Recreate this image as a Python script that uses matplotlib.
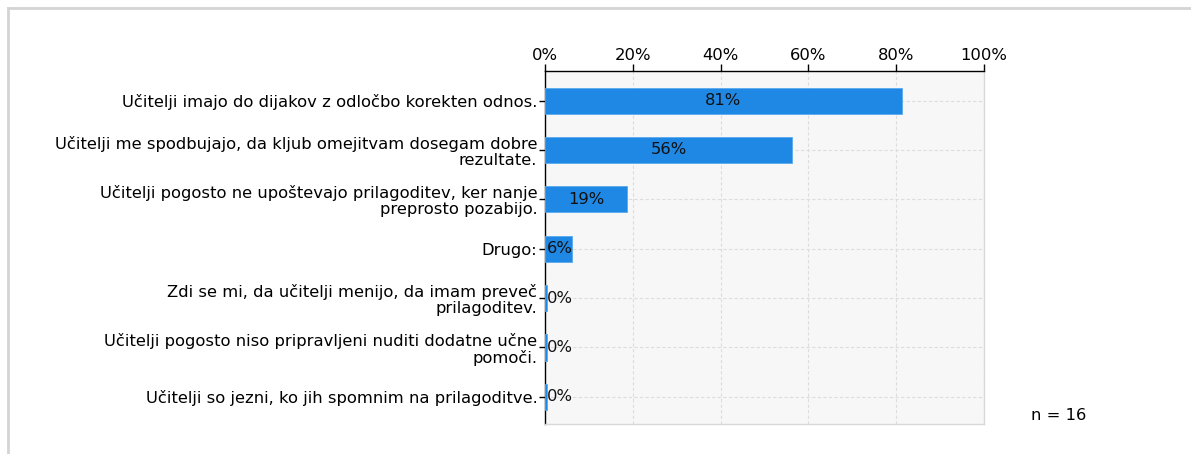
import matplotlib
matplotlib.use("Agg")
import matplotlib.pyplot as plt
from matplotlib.lines import Line2D

categories = [
    "Učitelji imajo do dijakov z odločbo korekten odnos.",
    "Učitelji me spodbujajo, da kljub omejitvam dosegam dobre\nrezultate.",
    "Učitelji pogosto ne upoštevajo prilagoditev, ker nanje\npreprosto pozabijo.",
    "Drugo:",
    "Zdi se mi, da učitelji menijo, da imam preveč\nprilagoditev.",
    "Učitelji pogosto niso pripravljeni nuditi dodatne učne\npomoči.",
    "Učitelji so jezni, ko jih spomnim na prilagoditve.",
]
values = [81.25, 56.25, 18.75, 6.25, 0, 0, 0]
labels = ["81%", "56%", "19%", "6%", "0%", "0%", "0%"]
xticks = [0, 20, 40, 60, 80, 100]
n_resp = 16

plt.rcParams["font.family"] = ["DejaVu Sans"]
FS = 11.8
W, H = 1191, 454
fig = plt.figure(figsize=(W / 100, H / 100), dpi=100)
ax = fig.add_axes([545 / W, 1 - 424 / H, (984 - 545) / W, (424 - 71) / H])

ax.set_facecolor("#f7f7f7")
ypos = list(range(len(categories)))
# tiny sliver for zero bars
drawn = [v if v > 0 else 0.4 for v in values]
ax.barh(ypos, drawn, height=0.53, color="#1f88e5", edgecolor="#5aa9ee", linewidth=0.6, zorder=3)

for y, v, lab in zip(ypos, values, labels):
    if v >= 15:
        ax.text(v / 2, y, lab, ha="center", va="center", fontsize=FS, color="#111111", zorder=4)
    else:
        ax.text(0.5, y, lab, ha="left", va="center", fontsize=FS, color="#111111", zorder=4)

ax.set_xlim(0, 100)
ax.set_ylim(6.55, -0.6)
ax.set_xticks(xticks)
ax.set_xticklabels([f"{t}%" for t in xticks])
ax.set_yticks(ypos)
ax.set_yticklabels(categories, fontsize=FS, ha="right", linespacing=1.05)
ax.xaxis.tick_top()
ax.tick_params(axis="x", labelsize=FS, length=5, width=1, colors="black", pad=1)
ax.tick_params(axis="y", length=4, width=1, pad=1.5)
ax.grid(True, color="#dddddd", linestyle=(0, (3, 2)), linewidth=0.8, zorder=1)

for side in ("top", "left"):
    ax.spines[side].set_color("black")
    ax.spines[side].set_linewidth(1)
for side in ("bottom", "right"):
    ax.spines[side].set_color("#d8d8d8")
    ax.spines[side].set_linewidth(1)

fig.text(1031 / W, 1 - 416 / H, f"n = {n_resp}", fontsize=FS, ha="left", va="center")

# outer frame (top and left edges visible)
fig.add_artist(Line2D([8 / W, 1.0], [1 - 8 / H, 1 - 8 / H], color="#d4d4d4", linewidth=2,
                      transform=fig.transFigure))
fig.add_artist(Line2D([8 / W, 8 / W], [0, 1 - 8 / H], color="#d4d4d4", linewidth=2,
                      transform=fig.transFigure))

fig.savefig("out.png", dpi=100)
